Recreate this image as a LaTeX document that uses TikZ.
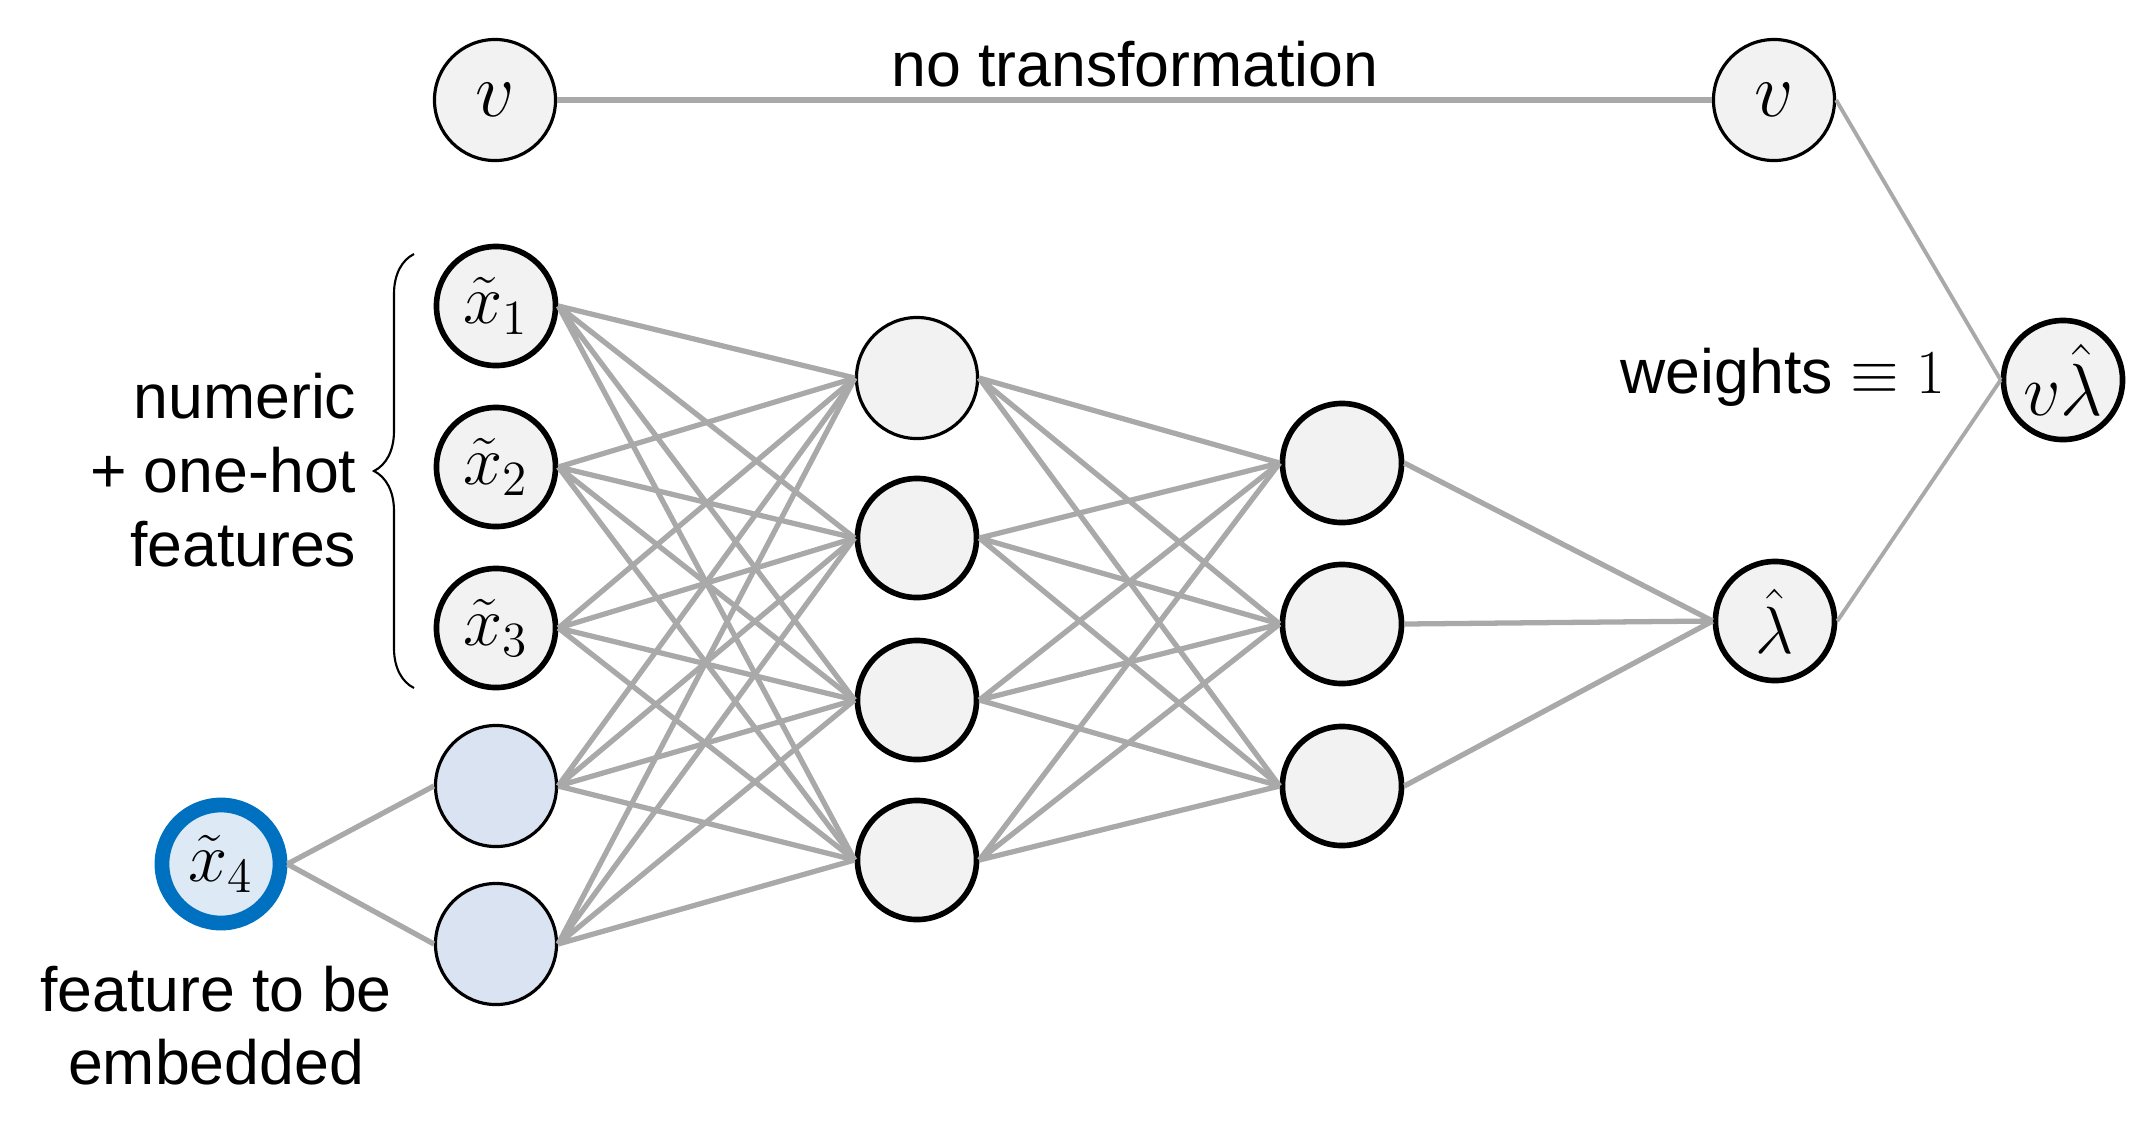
\RequirePackage{fix-cm}
\documentclass[tikz,border=0pt]{standalone}
\usepackage{fontspec}
\setmainfont{Liberation Sans}
\usetikzlibrary{decorations.pathreplacing}

\definecolor{nodefill}{HTML}{F2F2F2}
\definecolor{embfill}{HTML}{DAE3F1}
\definecolor{featfill}{HTML}{DEE9F6}
\definecolor{featblue}{HTML}{0070C0}
\definecolor{edgegray}{HTML}{A9A9A9}

\tikzset{
  neuron/.style={circle, draw=black, line width=1.6pt, fill=nodefill, minimum size=1.19cm, inner sep=0pt},
  thinneuron/.style={neuron, line width=0.9pt, minimum size=1.21cm},
  embed/.style={thinneuron, fill=embfill},
  feature/.style={circle, draw=featblue, line width=4.2pt, fill=featfill, minimum size=1.18cm, inner sep=0pt},
  edge/.style={draw=edgegray, line width=1.5pt},
  thinedge/.style={draw=edgegray, line width=1.1pt},
  label/.style={font=\fontsize{17.8}{21}\selectfont, inner sep=0pt},
  bigmath/.style={font=\fontsize{22}{26}\selectfont},
  midmath/.style={font=\fontsize{19}{23}\selectfont},
  smallmath/.style={font=\fontsize{20}{24}\selectfont}
}

\begin{document}
\begin{tikzpicture}[x=0.01cm,y=-0.01cm]
\useasboundingbox (0,0) rectangle (2129,1141);

% input side
\node[thinneuron, bigmath] (v1) at (495,100) {$v$};
\node[neuron, smallmath] (x1) at (496,306) {$\tilde{x}_1$};
\node[neuron, smallmath] (x2) at (496,467) {$\tilde{x}_2$};
\node[neuron, smallmath] (x3) at (496,628) {$\tilde{x}_3$};
\node[embed] (e1) at (496,786) {};
\node[embed] (e2) at (496,944) {};
\node[feature, smallmath] (x4) at (221,864) {$\tilde{x}_4$};

% hidden layers
\node[thinneuron] (h1) at (917,378) {};
\node[neuron] (h2) at (917,538) {};
\node[neuron] (h3) at (917,700) {};
\node[neuron] (h4) at (917,860) {};
\node[neuron] (g1) at (1342,463) {};
\node[neuron] (g2) at (1342,624) {};
\node[neuron] (g3) at (1342,786) {};

% output side
\node[thinneuron, bigmath] (v2) at (1774,100) {$v$};
\node[neuron, midmath] (lam) at (1775,621) {$\hat{\lambda}$};
\node[neuron, font=\fontsize{21}{25}\selectfont] (vlam) at (2063,380) {$v\hat{\lambda}$};

% texts
\node[label, anchor=base] (notrans) at (1135,86) {no transformation};
\node[label, anchor=east, align=right] (numeric) at (357,470) {numeric\\+ one-hot\\features};
\node[label, anchor=north, align=center] (embedtxt) at (216,965) {feature to be\\embedded};
\node[label, anchor=base west] (weights) at (1620,393) {weights $\equiv 1$};
\draw[line width=0.6pt, decorate, decoration={brace, amplitude=0.4cm}] (414,688) -- (414,254);

% connections
\draw[edge, line width=1.8pt] (v1.east) -- (v2.west);
\draw[thinedge] (v2.east) -- (vlam.west) (lam.east) -- (vlam.west);
\draw[edge] (x4.east) -- (e1.west) (x4.east) -- (e2.west);

\draw[edge] (x1.east) -- (h1.west) (x1.east) -- (h2.west) (x1.east) -- (h3.west) (x1.east) -- (h4.west);
\draw[edge] (x2.east) -- (h1.west) (x2.east) -- (h2.west) (x2.east) -- (h3.west) (x2.east) -- (h4.west);
\draw[edge] (x3.east) -- (h1.west) (x3.east) -- (h2.west) (x3.east) -- (h3.west) (x3.east) -- (h4.west);
\draw[edge] (e1.east) -- (h1.west) (e1.east) -- (h2.west) (e1.east) -- (h3.west) (e1.east) -- (h4.west);
\draw[edge] (e2.east) -- (h1.west) (e2.east) -- (h2.west) (e2.east) -- (h3.west) (e2.east) -- (h4.west);

\draw[edge] (h1.east) -- (g1.west) (h1.east) -- (g2.west) (h1.east) -- (g3.west);
\draw[edge] (h2.east) -- (g1.west) (h2.east) -- (g2.west) (h2.east) -- (g3.west);
\draw[edge] (h3.east) -- (g1.west) (h3.east) -- (g2.west) (h3.east) -- (g3.west);
\draw[edge] (h4.east) -- (g1.west) (h4.east) -- (g2.west) (h4.east) -- (g3.west);

\draw[edge] (g1.east) -- (lam.west) (g2.east) -- (lam.west) (g3.east) -- (lam.west);
\end{tikzpicture}
\end{document}
